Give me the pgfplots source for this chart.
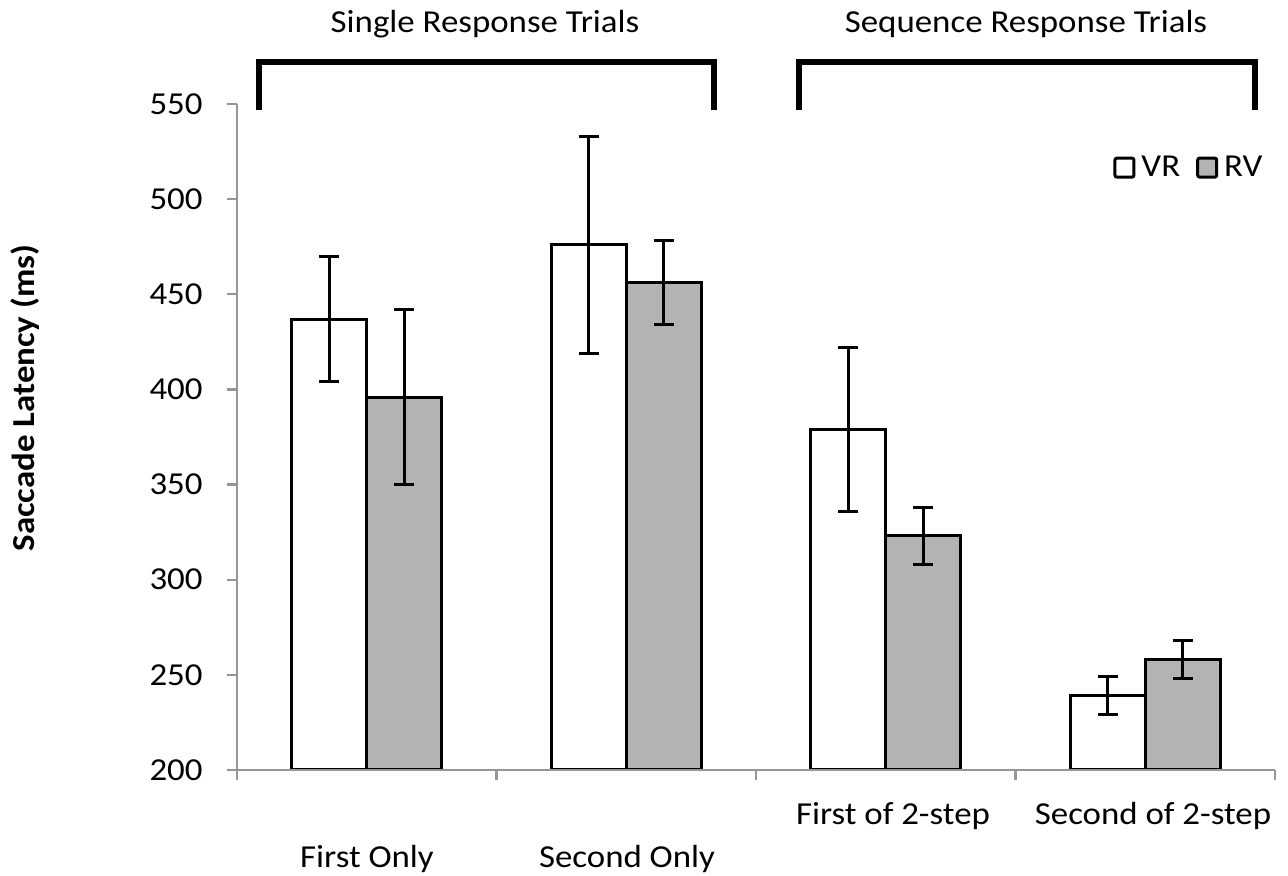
\documentclass[border=0pt]{standalone}
\usepackage{fontspec}
\setmainfont{Carlito}[FakeStretch=1.09]
\usepackage{pgfplots}
\usepackage{pgfplotstable}
\pgfplotsset{compat=1.18}
\definecolor{barfill}{RGB}{179,179,179}
\definecolor{axisgrey}{RGB}{150,150,150}

% mean latency and error (ms) per condition
\pgfplotstableread{
x  vr  vre  rv  rve
0  437 33   396 46
1  476 57   456 22
2  379 43   323 15
3  239 10   258 10
}\latency

\begin{document}
\begin{tikzpicture}[font=\fontsize{16}{19}\selectfont]
\useasboundingbox (0,0) rectangle (644pt,438pt);
\begin{axis}[
    at={(118.5pt,53pt)}, anchor=south west,
    scale only axis,
    width=519pt, height=333pt,
    xmin=-0.5, xmax=3.5,
    ymin=200, ymax=550,
    ytick={200,250,...,550},
    xtick={-0.5,0.5,1.5,2.5,3.5},
    xticklabels={},
    axis x line*=bottom,
    axis y line*=left,
    axis on top,
    axis line style={axisgrey, line width=1.2pt},
    tick style={axisgrey, line width=1.2pt},
    tick align=outside,
    major tick length=5pt,
    /pgf/number format/assume math mode=true,
    yticklabel style={anchor=east, inner sep=0pt, xshift=-12pt},
    ylabel={Saccade Latency (ms)},
    every axis y label/.style={at={(rel axis cs:-0.2042,0.5586)}, rotate=90, anchor=center, font=\bfseries\fontsize{16}{19}\selectfont},
    ybar=0pt,
    bar width=37.5pt,
    legend style={at={(rel axis cs:0.844,0.931)}, anchor=north west,
        draw=none, fill=none, inner sep=0pt, legend columns=2,
        /tikz/every even column/.append style={column sep=5pt},
        nodes={inner sep=3pt}},
    legend image code/.code={\draw[#1, line width=1.5pt, rounded corners=1pt] (0pt,-4.5pt) rectangle (9.5pt,5pt);},
    error bars/error bar style={line width=1.5pt, black},
    error bars/error mark options={rotate=90, line width=1.5pt, mark size=5pt, black},
]
\addplot[fill=white, draw=black, line width=1.5pt,
    error bars/.cd, y dir=both, y explicit]
    table[x=x, y=vr, y error=vre] {\latency};
\addplot[fill=barfill, draw=black, line width=1.5pt,
    error bars/.cd, y dir=both, y explicit]
    table[x=x, y=rv, y error=rve] {\latency};
\legend{VR, RV}
\end{axis}

% brackets, group titles and category names, in pixel units of the reference
\begin{scope}[x=0.5pt, y=-0.5pt, shift={(0pt,438pt)}]
    \draw[line width=3pt, miter limit=10] (259,110) -- (259,62) -- (714,62) -- (714,110);
    \draw[line width=3pt, miter limit=10] (799,110) -- (799,62) -- (1255,62) -- (1255,110);
    \node[anchor=base] at (485,33) {Single Response Trials};
    \node[anchor=base] at (1026,33) {Sequence Response Trials};
    \node[anchor=base] at (367,868) {First Only};
    \node[anchor=base] at (627,868) {Second Only};
    \node[anchor=base] at (893,825) {First of 2-step};
    \node[anchor=base] at (1153,825) {Second of 2-step};
\end{scope}
\end{tikzpicture}
\end{document}
